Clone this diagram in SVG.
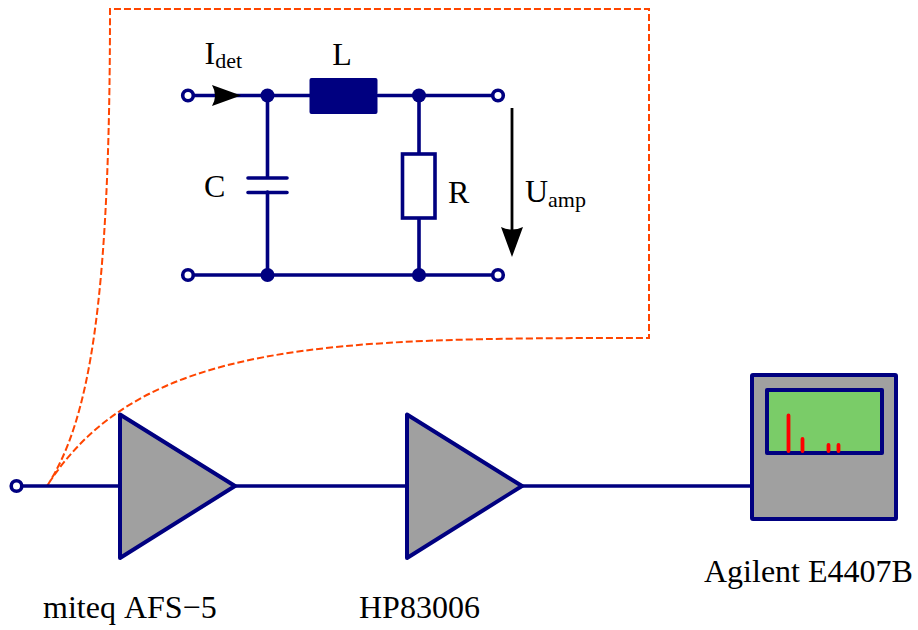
<svg xmlns="http://www.w3.org/2000/svg" width="918" height="630" viewBox="0 0 918 630">
<style>
.w{fill:none;stroke:#000080;stroke-width:3.600;stroke-linejoin:round;stroke-linecap:round}
.t{fill:#fff;stroke:#000080;stroke-width:3.600}
.d{fill:#000080}
.g{fill:#a0a0a0;stroke:#000080;stroke-width:4;stroke-linejoin:round}
.o{fill:none;stroke:#ff4500;stroke-width:2;stroke-dasharray:7 3}
text{font-family:"Liberation Serif","Times New Roman",serif;font-size:32px;fill:#000;font-kerning:none}
.s{font-size:22px}
.r{fill:none;stroke:#ff0000;stroke-width:3.800;stroke-linecap:round}
</style>
<g id="callout">
<path class="o" d="M47 486C90 420 110 300 110 9H649V338C330 338 140 340 47 486"/>
</g>
<g id="connectors">
<path class="w" d="M192 95.500H310M378 95.500H494M267.500 95.500V177M267.500 192V275M192 275H494M419 95.500V154M419 218V275"/>
<path class="w" d="M22 486H119M235 486H406M522 486H752"/>
<path d="M512 108V232" fill="none" stroke="#000" stroke-width="2.800"/>
<path d="M501 227L512 257L523 227Q512 232 501 227Z" fill="#000"/>
<path d="M212 85L241 95.500L212 106Q218 95.500 212 85Z" fill="#000"/>
</g>
<g id="port-in1"><circle class="t" cx="188" cy="95.500" r="5.300"/></g>
<g id="port-out1"><circle class="t" cx="498" cy="95.500" r="5.300"/></g>
<g id="port-in2"><circle class="t" cx="188" cy="275" r="5.300"/></g>
<g id="port-out2"><circle class="t" cx="498" cy="275" r="5.300"/></g>
<g id="port-main"><circle class="t" cx="16.500" cy="486" r="5.300"/></g>
<g id="junctions">
<circle class="d" cx="267.500" cy="95.500" r="7"/>
<circle class="d" cx="419" cy="95.500" r="7"/>
<circle class="d" cx="267.500" cy="275" r="7"/>
<circle class="d" cx="419" cy="275" r="7"/>
</g>
<g id="inductor"><rect class="d" x="309.500" y="78" width="68" height="36" rx="2"/><text x="342" y="65" text-anchor="middle">L</text></g>
<g id="capacitor">
<path class="w" d="M248 178H287M248 192.500H287"/>
<text x="204" y="197">C</text>
</g>
<g id="resistor">
<rect x="402.500" y="154" width="32.500" height="64" fill="#fff" stroke="#000080" stroke-width="3.600"/>
<text x="448" y="203">R</text>
</g>
<g id="label-idet"><text x="204.500" y="64">I<tspan class="s" dy="4">det</tspan></text></g>
<g id="label-uamp"><text x="525" y="202">U<tspan class="s" dy="5">amp</tspan></text></g>
<g id="amp1">
<path class="g" d="M120 414.500V558L235 486Z"/>
<text x="43" y="618">miteq AFS−5</text>
</g>
<g id="amp2">
<path class="g" d="M407 414.500V558L522 486Z"/>
<text x="359" y="618">HP83006</text>
</g>
<g id="analyzer">
<rect class="g" x="752" y="375" width="144" height="144" rx="1"/>
<rect x="767" y="390" width="115" height="63" fill="#7acc68" stroke="#000080" stroke-width="4" stroke-linejoin="round"/>
<path class="r" d="M788.500 451V415.500M802.500 451V439M828.500 451V445M838.500 451V445"/>
<text x="704" y="582">Agilent E4407B</text>
</g>
</svg>
